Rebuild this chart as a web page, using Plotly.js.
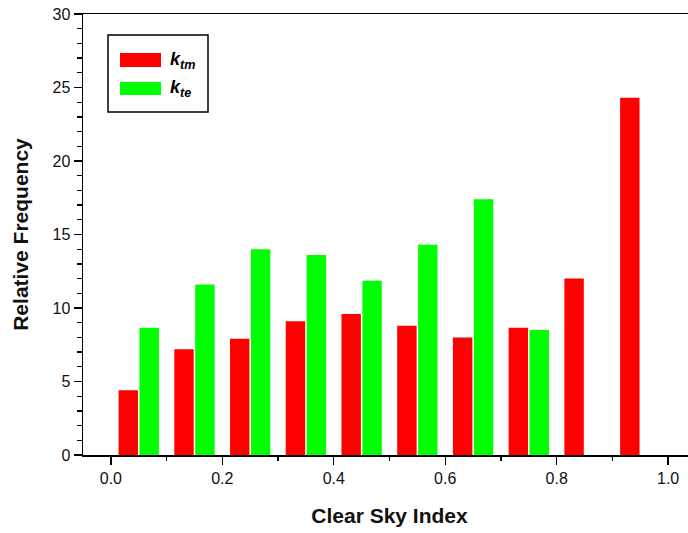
<!DOCTYPE html>
<html>
<head>
<meta charset="utf-8">
<script src="https://cdn.plot.ly/plotly-3.0.1.min.js"></script>
<style>
html,body{margin:0;padding:0;overflow:hidden;background:#fff;}
#chart{width:700px;height:533px;}
</style>
</head>
<body>
<div id="chart"></div>
<script>
// Data
const binCenters = [0.05, 0.15, 0.25, 0.35, 0.45, 0.55, 0.65, 0.75, 0.85, 0.95];
const ktm = [4.4, 7.2, 7.9, 9.1, 9.6, 8.8, 8.0, 8.65, 12.0, 24.3];
const kte = [8.65, 11.6, 14.0, 13.6, 11.85, 14.3, 17.4, 8.5, 0, 0];
const seriesNames = ['k<sub>tm</sub>', 'k<sub>te</sub>'];
const xTickVals = [0.0, 0.2, 0.4, 0.6, 0.8, 1.0];
const xTickText = ['0.0', '0.2', '0.4', '0.6', '0.8', '1.0'];
const yTickVals = [0, 5, 10, 15, 20, 25, 30];

const RED = '#ff0000', GREEN = '#00ff00';
const FONT = 'Liberation Sans, Arial, sans-serif';

const traces = [
  {type: 'bar', x: binCenters, y: ktm, name: seriesNames[0],
   marker: {color: RED, line: {width: 0}}, showlegend: false},
  {type: 'bar', x: binCenters, y: kte, name: seriesNames[1],
   marker: {color: GREEN, line: {width: 0}}, showlegend: false}
];

// plot area pixel geometry helpers for the legend box
const L = 83, T = 14, W = 613, H = 441.5;
const px = v => (v - L) / W;
const py = v => (T + H - v) / H;

const layout = {
  width: 700, height: 533,
  margin: {l: L, r: 700 - L - W, t: T, b: 533 - T - H},
  paper_bgcolor: '#fff', plot_bgcolor: '#fff',
  barmode: 'group', bargap: 0.25, bargroupgap: 0.07,
  font: {family: FONT, color: '#000', size: 16},
  xaxis: {
    range: [-0.05, 1.05], tickvals: xTickVals, ticktext: xTickText,
    showline: true, linecolor: '#000', linewidth: 1.5, mirror: true,
    ticks: 'outside', ticklen: 8, tickwidth: 1.3, tickcolor: '#000',
    minor: {ticks: 'outside', dtick: 0.1, tick0: 0, ticklen: 4, tickwidth: 1.3, tickcolor: '#000'},
    showgrid: false, zeroline: false,
    tickfont: {size: 16, family: FONT, color: '#111'},
    title: {text: '<b>Clear Sky Index</b>', font: {size: 21, family: FONT, color: '#111'}, standoff: 22}
  },
  yaxis: {
    range: [0, 30], tickvals: yTickVals,
    showline: true, linecolor: '#000', linewidth: 1.5, mirror: true,
    ticks: 'outside', ticklen: 8, tickwidth: 1.3, tickcolor: '#000',
    minor: {ticks: 'outside', dtick: 1, tick0: 0, ticklen: 5, tickwidth: 1.3, tickcolor: '#000'},
    showgrid: false, zeroline: false,
    tickfont: {size: 16, family: FONT, color: '#111'},
    title: {text: '<b>Relative Frequency</b>', font: {size: 21, family: FONT, color: '#111'}, standoff: 18}
  },
  shapes: [
    {type: 'rect', xref: 'paper', yref: 'paper', x0: px(108), x1: px(208), y0: py(112), y1: py(35),
     line: {color: '#000', width: 1.5}, fillcolor: 'rgba(0,0,0,0)'},
    {type: 'rect', xref: 'paper', yref: 'paper', x0: px(120), x1: px(161), y0: py(67), y1: py(53),
     line: {width: 0}, fillcolor: RED},
    {type: 'rect', xref: 'paper', yref: 'paper', x0: px(120), x1: px(161), y0: py(95), y1: py(82),
     line: {width: 0}, fillcolor: GREEN}
  ],
  annotations: [
    {xref: 'paper', yref: 'paper', x: px(168), y: py(61), xanchor: 'left', yanchor: 'middle', showarrow: false,
     text: '<b><i>k</i></b><sub><b><i>tm</i></b></sub>', font: {size: 18, family: FONT, color: '#000'}},
    {xref: 'paper', yref: 'paper', x: px(168), y: py(89), xanchor: 'left', yanchor: 'middle', showarrow: false,
     text: '<b><i>k</i></b><sub><b><i>te</i></b></sub>', font: {size: 18, family: FONT, color: '#000'}}
  ]
};

Plotly.newPlot('chart', traces, layout, {displayModeBar: false, staticPlot: true});
</script>
</body>
</html>
